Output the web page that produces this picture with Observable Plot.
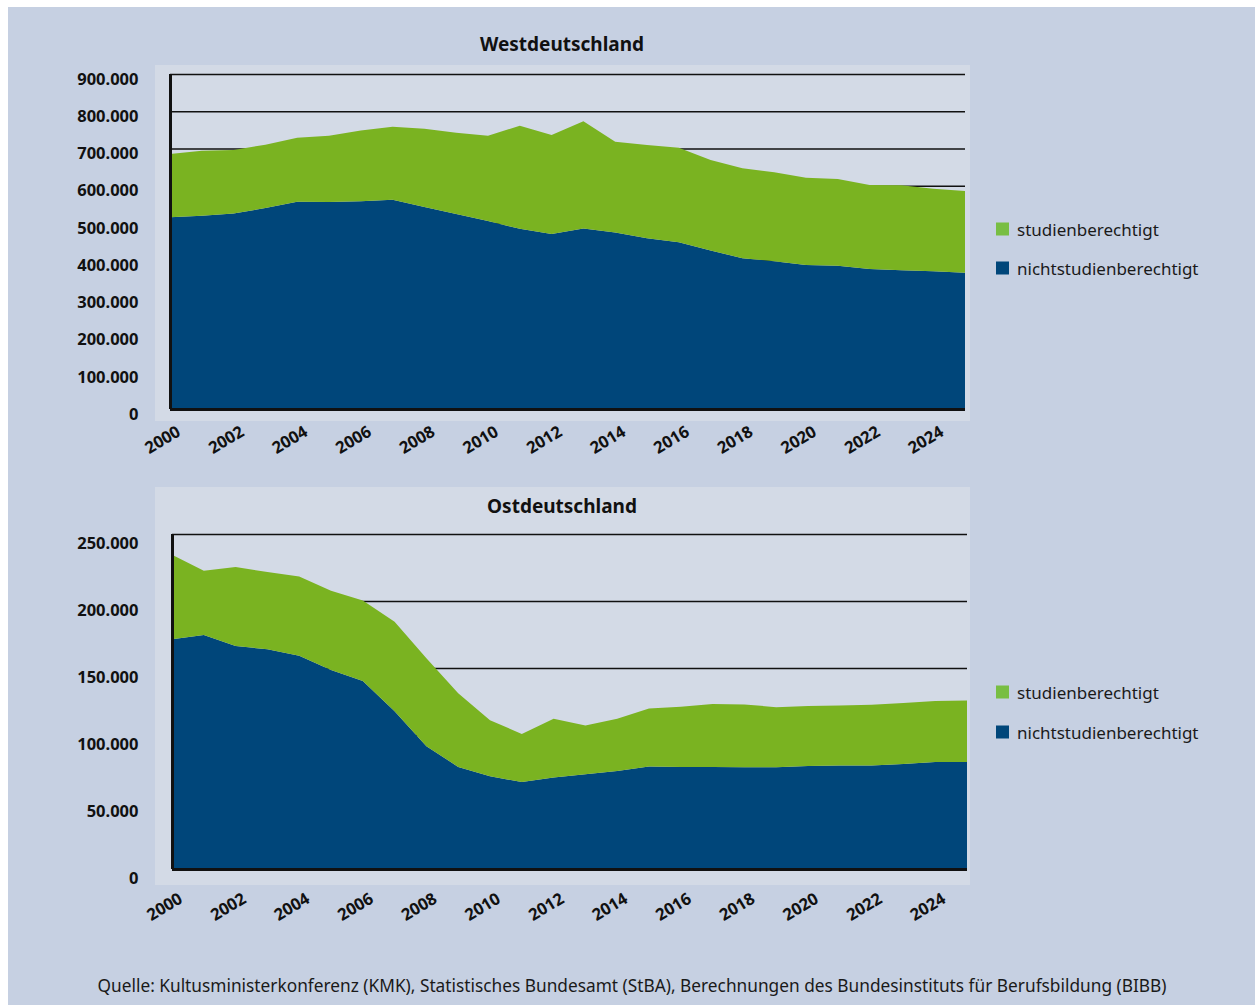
<!DOCTYPE html>
<html><head><meta charset="utf-8">
<script src="https://cdn.jsdelivr.net/npm/d3@7"></script>
<script src="https://cdn.jsdelivr.net/npm/@observablehq/plot@0.6"></script>
<style>
body{margin:0;font-family:"Noto Sans",sans-serif;}
#bg{position:absolute;left:8px;top:7px;width:1247px;height:998px;background:#c6d0e2;}
.panel{position:absolute;background:#d3dae6;}
.chart{position:absolute;left:0;}
.title{position:absolute;font-weight:700;font-size:19px;color:#111;transform:translate(-50%,-50%);white-space:nowrap;}
.leg{position:absolute;left:996px;font-size:17px;color:#1a1a1a;display:flex;align-items:center;white-space:nowrap;transform:translateY(-50%);}
.sw{width:13px;height:13px;margin-right:8px;}
#caption{position:absolute;left:632px;top:985px;transform:translate(-50%,-50%);font-size:17.3px;color:#1a1a1a;white-space:nowrap;}
</style></head><body>
<div id="bg"></div>
<div class="panel" style="left:155px;top:65px;width:815px;height:356px;"></div>
<div class="panel" style="left:155px;top:487px;width:815px;height:398px;"></div>
<div class="title" style="left:562px;top:44px;">Westdeutschland</div>
<div class="title" style="left:562px;top:506px;">Ostdeutschland</div>
<div id="west" class="chart" style="top:60px;"></div>
<div id="east" class="chart" style="top:520px;"></div>
<div id="legWest"></div>
<div id="legEast"></div>
<div id="caption">Quelle: Kultusministerkonferenz (KMK), Statistisches Bundesamt (StBA), Berechnungen des Bundesinstituts für Berufsbildung (BIBB)</div>
<script>
const years = [2000,2001,2002,2003,2004,2005,2006,2007,2008,2009,2010,2011,2012,2013,2014,2015,2016,2017,2018,2019,2020,2021,2022,2023,2024,2025];
const xTickYears = [2000,2002,2004,2006,2008,2010,2012,2014,2016,2018,2020,2022,2024];

const seriesNames = ["nichtstudienberechtigt","studienberechtigt"];
const seriesColors = ["#00467a","#7ab321"];
const legendColors = ["#00467a","#78be43"];

const westNicht   = [515000,519000,525000,540000,557000,556000,558000,562000,543000,524000,505000,484000,470000,485000,474000,459000,448000,426000,405000,397000,387000,385000,376000,373000,370000,366000];
const westStudien = [170000,175000,171000,170000,172000,178000,190000,196000,210000,218000,229000,277000,266000,288000,244000,250000,254000,243000,242000,239000,234000,233000,226000,228000,222000,220000];

const eastNicht   = [171500,174700,166400,164000,159200,148500,140300,117800,91600,76200,69200,64900,68200,70700,73200,76400,76200,76200,75900,75900,76900,77200,77200,78400,79900,79900];
const eastStudien = [63000,47800,58900,57600,59100,59100,60000,66800,65600,54900,41900,35900,43900,36400,38900,43400,44800,46900,46900,44900,44700,44900,45300,45400,45400,45900];

const westYTicks = [0,100000,200000,300000,400000,500000,600000,700000,800000,900000];
const eastYTicks = [0,50000,100000,150000,200000,250000];

const de = d3.formatLocale({decimal:",", thousands:".", grouping:[3], currency:["","€"]});
const fmt = de.format(",");

function table(nicht, studien) {
  const rows = [];
  years.forEach((y, i) => rows.push({year: y, group: seriesNames[0], value: nicht[i]}));
  years.forEach((y, i) => rows.push({year: y, group: seriesNames[1], value: studien[i]}));
  return rows;
}

function chart(nicht, studien, yTicks, o) {
  return Plot.plot({
    width: 1000, height: o.height,
    marginLeft: o.ml, marginRight: o.mr, marginTop: 14, marginBottom: o.mb,
    x: {domain: [2000, 2025], axis: null},
    y: {domain: [0, yTicks[yTicks.length - 1]], label: null},
    color: {domain: seriesNames, range: seriesColors},
    style: {background: "transparent", fontFamily: "Noto Sans", overflow: "visible", color: "#111"},
    marks: [
      Plot.ruleY(yTicks, {stroke: "#111", strokeWidth: 1.5}),
      Plot.areaY(table(nicht, studien), {x: "year", y: "value", fill: "group"}),
      Plot.ruleX([2000], {stroke: "#111", strokeWidth: 3}),
      Plot.ruleY([0], {stroke: "#111", strokeWidth: 3}),
      Plot.axisY(yTicks, {tickSize: 0, tickPadding: o.pad, tickFormat: fmt, label: null, fontSize: 16.5, fontWeight: "bold", dy: o.ydy, fill: "#111"}),
      Plot.text(xTickYears, {x: d => d, text: d => String(d), frameAnchor: "bottom", dy: o.xdy, dx: -5, rotate: -31, fontSize: 16.5, fontWeight: "bold", fill: "#111"})
    ]
  });
}

document.getElementById("west").append(chart(westNicht, westStudien, westYTicks, {height: 400, ml: 170, mr: 35, mb: 51, pad: 32, ydy: 5, xdy: 35}));
document.getElementById("east").append(chart(eastNicht, eastStudien, eastYTicks, {height: 420, ml: 172, mr: 33, mb: 71, pad: 34, ydy: 9, xdy: 42}));

function legend(id, tops) {
  const el = document.getElementById(id);
  [1, 0].forEach((k, j) => {
    const d = document.createElement("div");
    d.className = "leg";
    d.style.top = tops[j] + "px";
    const s = document.createElement("div");
    s.className = "sw";
    s.style.background = legendColors[k];
    d.append(s, document.createTextNode(seriesNames[k]));
    el.append(d);
  });
}
legend("legWest", [229, 268]);
legend("legEast", [692, 732]);
</script>
</body></html>
